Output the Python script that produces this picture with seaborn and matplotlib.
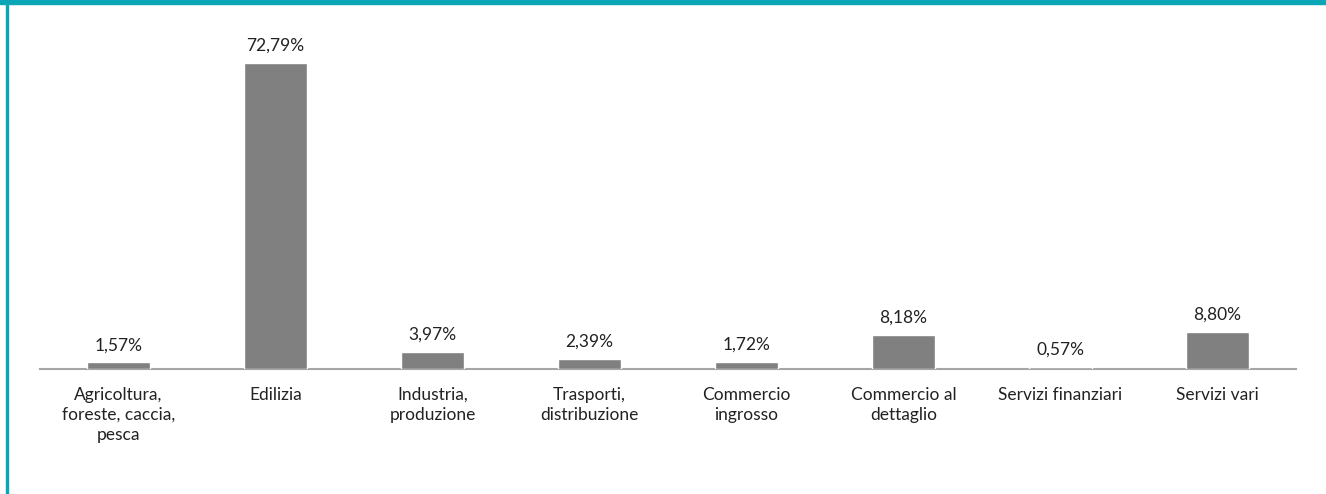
import matplotlib
matplotlib.use("Agg")
import matplotlib.pyplot as plt
import seaborn as sns
import pandas as pd
from matplotlib.patches import Rectangle

categorie = ["Agricoltura,\nforeste, caccia,\npesca", "Edilizia", "Industria,\nproduzione",
             "Trasporti,\ndistribuzione", "Commercio\ningrosso", "Commercio al\ndettaglio",
             "Servizi finanziari", "Servizi vari"]
valori = [1.57, 72.79, 3.97, 2.39, 1.72, 8.18, 0.57, 8.80]

df = pd.DataFrame({"settore": categorie, "quota": valori})

sns.set_style("white")
plt.rcParams["font.family"] = ["Lato", "DejaVu Sans"]

fig = plt.figure(figsize=(13.26, 4.94), dpi=100)
ax = fig.add_axes([40 / 1326, 125 / 494, 1256 / 1326, 336 / 494])

sns.barplot(data=df, x="settore", y="quota", color="#808080", saturation=1, width=0.4,
            ax=ax, zorder=3)

for i, v in enumerate(valori):
    ax.text(i, v + 2.2, f"{v:.2f}%".replace(".", ","), ha="center", va="bottom",
            fontsize=12.5, color="#222222")

ax.set_xlim(-0.5, 7.5)
ax.set_ylim(0, 80)
ax.set_xlabel("")
ax.set_ylabel("")
ax.set_yticks([])
for s in ["top", "right", "left"]:
    ax.spines[s].set_visible(False)
ax.spines["bottom"].set_color("#A6A6A6")
ax.spines["bottom"].set_linewidth(1.5)
ax.spines["bottom"].set_zorder(1)
ax.tick_params(axis="x", length=0, pad=13, labelsize=12.5, colors="#222222")
for lab in ax.get_xticklabels():
    lab.set_linespacing(1.3)

# cornice teal
fig.patches.append(Rectangle((0, 1 - 4 / 494), 1, 4 / 494, transform=fig.transFigure,
                             color="#0AA6B5", zorder=5))
fig.patches.append(Rectangle((6 / 1326, 0), 2 / 1326, 1, transform=fig.transFigure,
                             color="#0AA6B5", zorder=5))

fig.savefig("out.png", dpi=100, facecolor="white")
